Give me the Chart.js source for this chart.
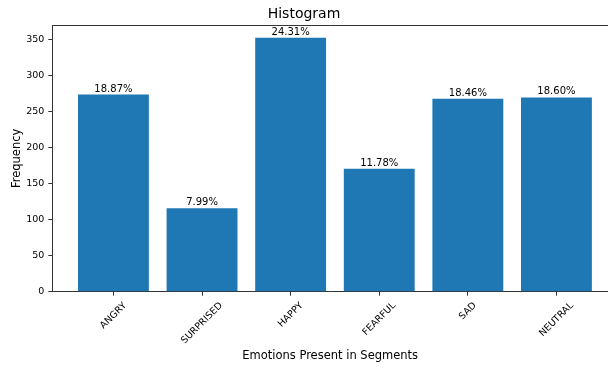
<!DOCTYPE html>
<html lang="en">
<head>
    <meta charset="UTF-8">
    <title>Histogram</title>
    <script src="https://cdn.jsdelivr.net/npm/chart.js"></script>
    <style>
        body {
            margin: 0;
            background-color: #ffffff;
        }
        #histChart {
            display: block;
        }
    </style>
</head>
<body>
    <canvas id="histChart" width="608" height="368"></canvas>
    <script>
        const emotions = ['ANGRY', 'SURPRISED', 'HAPPY', 'FEARFUL', 'SAD', 'NEUTRAL'];
        const counts = [274, 116, 353, 171, 268, 270];
        const pctLabels = ['18.87%', '7.99%', '24.31%', '11.78%', '18.46%', '18.60%'];
        const yTicks = [0, 50, 100, 150, 200, 250, 300, 350];

        const FONT = "'DejaVu Sans', sans-serif";
        const SPINE = '#333333';

        // top spine, bar value labels and rotated category labels
        const extras = {
            id: 'extras',
            afterDatasetsDraw(chart) {
                const ctx = chart.ctx;
                const area = chart.chartArea;
                ctx.save();
                ctx.strokeStyle = SPINE;
                ctx.lineWidth = 1;
                ctx.beginPath();
                ctx.moveTo(area.left, area.top + 0.5);
                ctx.lineTo(area.right, area.top + 0.5);
                ctx.stroke();

                ctx.fillStyle = '#000';
                ctx.font = '10px ' + FONT;
                ctx.textAlign = 'center';
                ctx.textBaseline = 'alphabetic';
                chart.getDatasetMeta(0).data.forEach((bar, i) => {
                    ctx.fillText(pctLabels[i], bar.x, bar.y - 3);
                });

                const xs = chart.scales.x;
                ctx.font = '9.5px ' + FONT;
                ctx.textBaseline = 'middle';
                emotions.forEach((name, i) => {
                    const w = ctx.measureText(name).width;
                    const half = (w + 11) * Math.SQRT1_2 / 2;
                    const cx = xs.getPixelForValue(i);
                    const cy = xs.top + 8.5 + half;
                    ctx.save();
                    ctx.translate(cx, cy);
                    ctx.rotate(-Math.PI / 4);
                    ctx.fillText(name, 0, 0);
                    ctx.restore();
                });
                ctx.restore();
            }
        };

        new Chart(document.getElementById('histChart'), {
            type: 'bar',
            data: {
                datasets: [{
                    data: counts.map((c, i) => ({ x: i, y: c })),
                    backgroundColor: '#1f77b4',
                    borderWidth: 0,
                    barPercentage: 0.8,
                    categoryPercentage: 1.0
                }]
            },
            options: {
                responsive: false,
                animation: false,
                layout: { padding: 0 },
                plugins: {
                    legend: { display: false },
                    tooltip: { enabled: false },
                    title: {
                        display: true,
                        text: 'Histogram',
                        color: '#000',
                        font: { family: FONT, size: 14, weight: 'normal', lineHeight: 1.2 },
                        padding: { top: 6, bottom: 2.2 }
                    }
                },
                scales: {
                    x: {
                        type: 'linear',
                        offset: false,
                        min: -0.69,
                        max: 5.582,
                        afterBuildTicks(scale) {
                            scale.ticks = emotions.map((_, i) => ({ value: i }));
                        },
                        afterFit(scale) {
                            scale.height = 76.3;
                        },
                        ticks: { display: false },
                        grid: {
                            offset: false,
                            drawOnChartArea: false,
                            drawTicks: true,
                            tickLength: 4,
                            color: SPINE
                        },
                        border: { display: true, color: SPINE, width: 1 },
                        title: {
                            display: true,
                            text: 'Emotions Present in Segments',
                            color: '#000',
                            font: { family: FONT, size: 11.5, lineHeight: 1.2 },
                            padding: { top: 0, bottom: 5 }
                        }
                    },
                    y: {
                        min: 0,
                        max: 370.65,
                        afterBuildTicks(scale) {
                            scale.ticks = yTicks.map(v => ({ value: v }));
                        },
                        afterFit(scale) {
                            scale.width = 52.3;
                        },
                        ticks: {
                            color: '#000',
                            font: { family: FONT, size: 9.5 },
                            padding: 4
                        },
                        grid: {
                            drawOnChartArea: false,
                            drawTicks: true,
                            tickLength: 4,
                            color: SPINE
                        },
                        border: { display: true, color: SPINE, width: 1 },
                        title: {
                            display: true,
                            text: 'Frequency',
                            color: '#000',
                            font: { family: FONT, size: 11.5, lineHeight: 1.2 },
                            padding: { top: 10, bottom: 0 }
                        }
                    }
                }
            },
            plugins: [extras]
        });
    </script>
</body>
</html>
